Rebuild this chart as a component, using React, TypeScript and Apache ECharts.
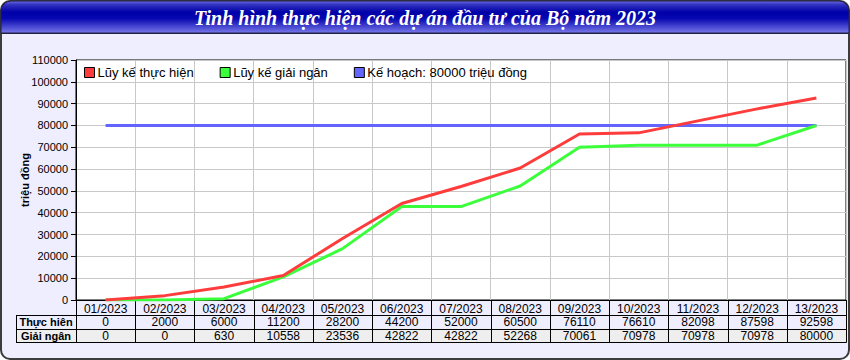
import React, { useEffect, useRef } from "react";
import * as echarts from "echarts";

const titleText = "Tinh hình thực hiện các dự án đầu tư của Bộ năm 2023";
const months = ["01/2023", "02/2023", "03/2023", "04/2023", "05/2023", "06/2023", "07/2023", "08/2023", "09/2023", "10/2023", "11/2023", "12/2023", "13/2023"];
const thucHien = [0, 2000, 6000, 11200, 28200, 44200, 52000, 60500, 76110, 76610, 82098, 87598, 92598];
const giaiNgan = [0, 0, 630, 10558, 23536, 42822, 42822, 52268, 70061, 70978, 70978, 70978, 80000];
const keHoach = [80000, 80000, 80000, 80000, 80000, 80000, 80000, 80000, 80000, 80000, 80000, 80000, 80000];
const seriesNames = ["Lũy kế thực hiện", "Lũy kế giải ngân", "Kế hoạch: 80000 triệu đồng"];
const rowLabels = ["Thực hiên", "Giải ngân"];
const yAxisName = "triệu đồng";
const yMin = 0;
const yMax = 110000;
const yStep = 10000;

const FONT = "Arial, 'Liberation Sans', sans-serif";

export default function App() {
  const ref = useRef<HTMLDivElement>(null);

  useEffect(() => {
    if (!ref.current) return;
    const chart = echarts.init(ref.current, null, { renderer: "svg" });
    const option: any = {
      animation: false,
      backgroundColor: "transparent",
      textStyle: { fontFamily: FONT },
      grid: {
        left: 76,
        right: 4,
        top: 60,
        bottom: 60,
        show: true,
        backgroundColor: "#ffffff",
        borderColor: "#000000",
        borderWidth: 1,
      },
      legend: {
        left: 84,
        top: 66,
        padding: 0,
        itemWidth: 10,
        itemHeight: 10,
        itemGap: 26,
        icon: "rect",
        data: seriesNames,
        textStyle: { fontSize: 13, fontWeight: "normal", color: "#000", fontFamily: FONT, padding: [0, 0, 0, -2] },
        itemStyle: { borderColor: "#000", borderWidth: 1 },
      },
      xAxis: {
        type: "category",
        data: months,
        boundaryGap: true,
        axisLabel: { show: false },
        axisTick: { show: false },
        axisLine: { show: true, lineStyle: { color: "#000", width: 1 } },
        splitLine: { show: true, interval: 0, lineStyle: { color: "#c8c8c8", width: 1 } },
      },
      yAxis: {
        type: "value",
        min: yMin,
        max: yMax,
        interval: yStep,
        name: yAxisName,
        nameLocation: "middle",
        nameRotate: 90,
        nameGap: 46,
        nameMoveOverlap: false,
        nameTextStyle: { fontSize: 11, fontWeight: "bold", color: "#000", fontFamily: FONT },
        axisLine: { show: true, lineStyle: { color: "#000", width: 1 } },
        axisTick: { show: true, length: 5, lineStyle: { color: "#000" } },
        axisLabel: { fontSize: 11, color: "#000", margin: 8, fontFamily: FONT, formatter: (v: number) => String(v) },
        splitLine: { show: true, lineStyle: { color: "#c8c8c8", width: 1 } },
      },
      series: [
        {
          name: seriesNames[2],
          type: "line",
          data: keHoach,
          symbol: "none",
          lineStyle: { color: "#6464ff", width: 3 },
          itemStyle: { color: "#6464ff" },
          z: 2,
        },
        {
          name: seriesNames[1],
          type: "line",
          data: giaiNgan,
          symbol: "none",
          lineStyle: { color: "#3cff3c", width: 3 },
          itemStyle: { color: "#3cff3c" },
          z: 3,
        },
        {
          name: seriesNames[0],
          type: "line",
          data: thucHien,
          symbol: "none",
          lineStyle: { color: "#ff3c3c", width: 3 },
          itemStyle: { color: "#ff3c3c" },
          z: 4,
        },
      ],
    };
    chart.setOption(option);

    const c0 = chart.convertToPixel({ xAxisIndex: 0 }, 0) as number;
    const c1 = chart.convertToPixel({ xAxisIndex: 0 }, 1) as number;
    const bw = c1 - c0;
    const yBase = Math.round(chart.convertToPixel({ yAxisIndex: 0 }, 0) as number);
    const leftEdge = c0 - bw / 2;
    const rightEdge = leftEdge + bw * months.length;
    const labelLeft = 16;
    const rowH = 13.5;
    const headerBottom = yBase + 15;
    const row1Bottom = headerBottom + rowH;
    const row2Bottom = row1Bottom + rowH;

    const els: any[] = [];
    els.push({
      type: "rect",
      shape: { x: 1, y: 1, width: 848, height: 32, r: [10, 10, 0, 0] },
      style: {
        fill: new echarts.graphic.LinearGradient(0, 0, 0, 1, [
          { offset: 0, color: "#6a6ae0" },
          { offset: 0.12, color: "#3030c0" },
          { offset: 0.35, color: "#0000a8" },
          { offset: 0.55, color: "#0808b0" },
          { offset: 1, color: "#7878ea" },
        ]),
        stroke: "#20204a",
        lineWidth: 1,
      },
    });
    els.push({
      type: "line",
      shape: { x1: 1, y1: 33.5, x2: 849, y2: 33.5 },
      style: { stroke: "#222244", lineWidth: 1 },
    });
    els.push({
      type: "text",
      x: 425,
      y: 18,
      style: {
        text: titleText,
        fill: "#ffffff",
        font: "italic bold 20px 'Liberation Serif', 'Times New Roman', serif",
        textAlign: "center",
        textVerticalAlign: "middle",
      },
    });

    els.push({
      type: "rect",
      shape: { x: labelLeft, y: headerBottom, width: rightEdge - labelLeft, height: rowH },
      style: { fill: "#eeeeff" },
    });
    els.push({
      type: "rect",
      shape: { x: labelLeft, y: row1Bottom, width: rightEdge - labelLeft, height: rowH },
      style: { fill: "#eeeeee" },
    });
    const lineStyle = { stroke: "#000", lineWidth: 1 };
    [headerBottom, row1Bottom, row2Bottom].forEach((y) => {
      els.push({
        type: "line",
        shape: { x1: labelLeft, y1: Math.round(y) + 0.5, x2: rightEdge + 0.5, y2: Math.round(y) + 0.5 },
        style: lineStyle,
      });
    });
    for (let k = 0; k <= months.length; k++) {
      const x = Math.round(leftEdge + k * bw) + 0.5;
      els.push({
        type: "line",
        shape: { x1: x, y1: yBase, x2: x, y2: Math.round(row2Bottom) + 0.5 },
        style: lineStyle,
      });
    }
    els.push({
      type: "line",
      shape: { x1: labelLeft + 0.5, y1: Math.round(headerBottom) + 0.5, x2: labelLeft + 0.5, y2: Math.round(row2Bottom) + 0.5 },
      style: lineStyle,
    });
    const rows = [thucHien, giaiNgan];
    months.forEach((m, i) => {
      const cx = chart.convertToPixel({ xAxisIndex: 0 }, i) as number;
      els.push({
        type: "text",
        x: cx,
        y: (yBase + headerBottom) / 2 + 1,
        style: { text: m, fill: "#000", font: `12px ${FONT}`, textAlign: "center", textVerticalAlign: "middle" },
      });
      rows.forEach((r, j) => {
        const top = j === 0 ? headerBottom : row1Bottom;
        els.push({
          type: "text",
          x: cx,
          y: top + rowH / 2 + 0.5,
          style: { text: String(r[i]), fill: "#000", font: `12px ${FONT}`, textAlign: "center", textVerticalAlign: "middle" },
        });
      });
    });
    rowLabels.forEach((lab, j) => {
      const top = j === 0 ? headerBottom : row1Bottom;
      els.push({
        type: "text",
        x: (labelLeft + leftEdge) / 2,
        y: top + rowH / 2 + 0.5,
        style: { text: lab, fill: "#000", font: `bold 11px ${FONT}`, textAlign: "center", textVerticalAlign: "middle" },
      });
    });

    chart.setOption({ graphic: { elements: els } });

    return () => {
      chart.dispose();
    };
  }, []);

  return (
    <div style={{ position: "absolute", left: 0, top: 0, width: 850, height: 360 }}>
      <div
        style={{
          position: "absolute",
          left: 0,
          top: 0,
          width: 850,
          height: 360,
          boxSizing: "border-box",
          background: "#eeeeff",
          border: "2px solid #3c3c3c",
          borderRadius: 10,
        }}
      />
      <div ref={ref} style={{ position: "absolute", left: 0, top: 0, width: 850, height: 360 }} />
    </div>
  );
}
